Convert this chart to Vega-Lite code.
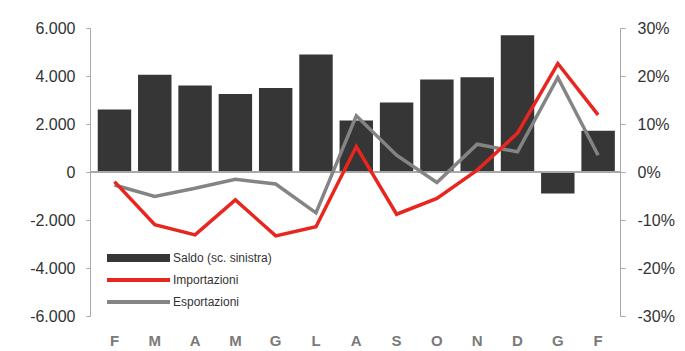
{
  "$schema": "https://vega.github.io/schema/vega-lite/v6.json",
  "width": 530,
  "height": 288,
  "autosize": {"type": "none"},
  "padding": {"left": 90, "top": 28, "right": 65, "bottom": 35},
  "background": "#ffffff",
  "config": {
    "view": {"stroke": null},
    "font": "Liberation Sans",
    "locale": {
      "number": {"decimal": ",", "thousands": ".", "grouping": [3], "currency": ["€", ""], "minus": "-"}
    },
    "axis": {"grid": false, "title": null}
  },
  "data": {
    "values": [
      {"t": 1, "saldo": 2600, "imp": -0.020, "esp": -0.027},
      {"t": 2, "saldo": 4050, "imp": -0.110, "esp": -0.051},
      {"t": 3, "saldo": 3600, "imp": -0.131, "esp": -0.034},
      {"t": 4, "saldo": 3250, "imp": -0.058, "esp": -0.015},
      {"t": 5, "saldo": 3500, "imp": -0.133, "esp": -0.025},
      {"t": 6, "saldo": 4900, "imp": -0.114, "esp": -0.085},
      {"t": 7, "saldo": 2150, "imp": 0.053, "esp": 0.117},
      {"t": 8, "saldo": 2900, "imp": -0.088, "esp": 0.035},
      {"t": 9, "saldo": 3850, "imp": -0.055, "esp": -0.022},
      {"t": 10, "saldo": 3950, "imp": 0.004, "esp": 0.058},
      {"t": 11, "saldo": 5700, "imp": 0.081, "esp": 0.042},
      {"t": 12, "saldo": -900, "imp": 0.226, "esp": 0.197},
      {"t": 13, "saldo": 1720, "imp": 0.119, "esp": 0.035}
    ]
  },
  "encoding": {
    "x": {
      "field": "t",
      "type": "ordinal",
      "scale": {"paddingInner": 0.17, "paddingOuter": 0.16, "align": 0.6},
      "axis": {
        "domain": false,
        "ticks": false,
        "labelAngle": 0,
        "labelPadding": 17,
        "labelFontSize": 15,
        "labelFontWeight": "bold",
        "labelColor": "#7a7a7a",
        "labelExpr": "['F','M','A','M','G','L','A','S','O','N','D','G','F'][datum.value - 1]"
      }
    }
  },
  "layer": [
    {
      "encoding": {
        "y": {
          "type": "quantitative",
          "scale": {"domain": [-6000, 6000], "nice": false, "zero": false},
          "axis": {
            "values": [-6000, -4000, -2000, 0, 2000, 4000, 6000],
            "format": ",d",
            "domainColor": "#a8a8a8",
            "tickColor": "#a8a8a8",
            "tickSize": 4,
            "labelPadding": 11,
            "labelFontSize": 16,
            "labelColor": "#333333"
          }
        }
      },
      "layer": [
        {
          "mark": {"type": "bar"},
          "encoding": {
            "y": {"field": "saldo", "type": "quantitative"},
            "color": {
              "datum": "Saldo (sc. sinistra)",
              "scale": {
                "domain": ["Saldo (sc. sinistra)", "Importazioni", "Esportazioni"],
                "range": ["#363636", "#e8251e", "#848484"]
              },
              "legend": {
                "title": null,
                "orient": "none",
                "legendX": 17,
                "legendY": 219,
                "symbolType": "stroke",
                "symbolSize": 3969,
                "symbolStrokeWidth": 4,
                "clipHeight": 22,
                "labelFontSize": 12,
                "labelColor": "#333333",
                "labelOffset": 54,
                "rowPadding": 0,
                "encode": {
                  "symbols": {
                    "update": {
                      "x": {"value": 31.5},
                      "stroke": {"signal": "scale('color', datum.value)"},
                      "strokeWidth": {"signal": "datum.value === 'Saldo (sc. sinistra)' ? 8 : 4"}
                    }
                  }
                }
              }
            }
          }
        },
        {
          "mark": {"type": "rule", "color": "#a8a8a8", "strokeWidth": 1},
          "encoding": {"y": {"datum": 0, "type": "quantitative"}, "x": null}
        }
      ]
    },
    {
      "encoding": {
        "y": {
          "type": "quantitative",
          "scale": {"domain": [-0.3, 0.3], "nice": false, "zero": false},
          "axis": {
            "orient": "right",
            "values": [-0.3, -0.2, -0.1, 0, 0.1, 0.2, 0.3],
            "format": ".0%",
            "domainColor": "#a8a8a8",
            "tickColor": "#a8a8a8",
            "tickSize": 5,
            "labelPadding": 12,
            "labelFontSize": 16,
            "labelColor": "#333333"
          }
        }
      },
      "layer": [
        {
          "mark": {"type": "line", "strokeWidth": 3.5, "strokeJoin": "miter"},
          "encoding": {
            "y": {"field": "esp", "type": "quantitative"},
            "color": {"datum": "Esportazioni"}
          }
        },
        {
          "mark": {"type": "line", "strokeWidth": 3.5, "strokeJoin": "miter"},
          "encoding": {
            "y": {"field": "imp", "type": "quantitative"},
            "color": {"datum": "Importazioni"}
          }
        }
      ]
    }
  ],
  "resolve": {"scale": {"y": "independent"}}
}
